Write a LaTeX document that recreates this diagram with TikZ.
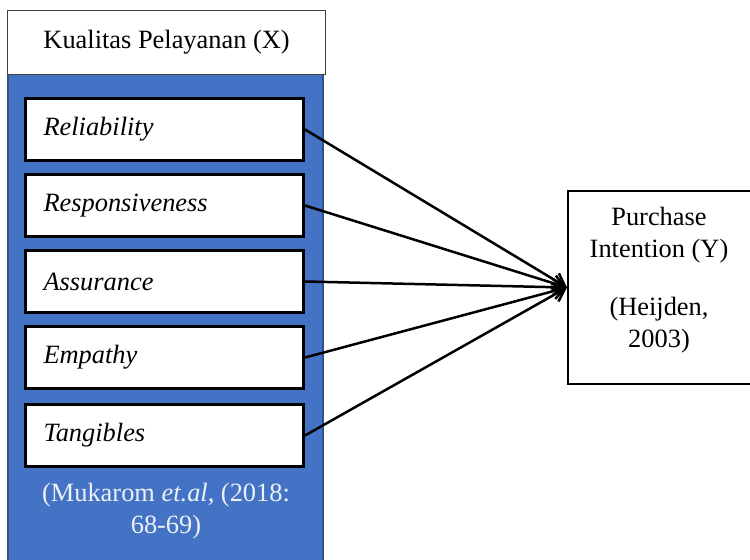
\documentclass[tikz,border=0pt]{standalone}
\usepackage{fontspec}
\setmainfont{Liberation Serif}
\usepackage{xcolor}
\usetikzlibrary{arrows.meta}
\definecolor{dimblue}{HTML}{4472C4}
\definecolor{dimedge}{HTML}{2F528F}

\begin{document}
\begin{tikzpicture}[x=0.5pt, y=-0.5pt,
    font=\fontsize{13.2}{16}\selectfont,
    dimbox/.style={draw=black, line width=1.5pt, fill=white, anchor=north west,
        text width=121pt, inner xsep=9pt, inner ysep=0pt, minimum height=31pt,
        align=left, font=\fontsize{13.2}{16}\selectfont\itshape},
    link/.style={line width=1.25pt, -{Straight Barb[length=6pt, width=8pt]}}]
    \useasboundingbox (0,0) rectangle (750,560);

    % Variable X
    \draw[fill=dimblue, draw=dimedge, line width=1pt] (8,74) rectangle (323,565);
    \node[draw=black!75, line width=0.6pt, fill=white, anchor=north west,
        minimum width=159pt, minimum height=32pt, inner sep=0pt] (kp) at (7,10) {Kualitas Pelayanan (X)};

    % Dimensions
    \node[dimbox] (rel) at (24,97) {Reliability};
    \node[dimbox] (res) at (24,173) {Responsiveness};
    \node[dimbox] (asu) at (24,249) {Assurance};
    \node[dimbox] (emp) at (24,325) {Empathy};
    \node[dimbox] (tan) at (24,403) {Tangibles};
    \node[align=center, text=white!90!dimblue] (src) at (166,511) {(Mukarom \textit{et.al}, (2018:\\68-69)};

    % Variable Y
    \node[draw=black, line width=1pt, anchor=north west, minimum width=93pt,
        minimum height=96.5pt, inner sep=0pt] (pi) at (567,190) {};
    \node[align=center] (pitext) at (659,280) {Purchase\\Intention (Y)\\[13pt](Heijden,\\2003)};

    % Arrows
    \foreach \d in {rel,res,asu,emp,tan}
        \draw[link] (\d.east) -- (pi.west);
\end{tikzpicture}
\end{document}
